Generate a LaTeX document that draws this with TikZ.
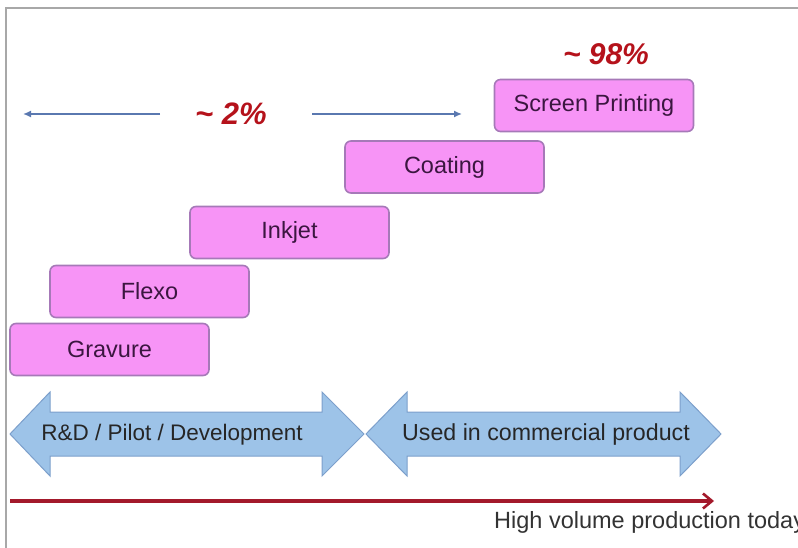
\documentclass[tikz,border=0pt]{standalone}
\usepackage{fontspec}
\setmainfont{Liberation Sans}
\usetikzlibrary{arrows.meta}
\definecolor{boxfill}{HTML}{F794F6}
\definecolor{boxdraw}{HTML}{A679B8}
\definecolor{boxtext}{HTML}{3B1640}
\definecolor{arrfill}{HTML}{9DC3E8}
\definecolor{arrdraw}{HTML}{7C9FCB}
\definecolor{pctred}{HTML}{B5121B}
\definecolor{thinblue}{HTML}{5A78B0}
\definecolor{axisred}{HTML}{A3192B}
\definecolor{framegray}{HTML}{A8A8A8}
\tikzset{
  techbox/.style={draw=boxdraw, line width=1.6pt, fill=boxfill, rounded corners=6pt,
    minimum width=199pt, minimum height=52pt, inner sep=0pt, text=boxtext,
    font=\fontsize{23.5}{26}\selectfont},
  pct/.style={text=pctred, font=\fontsize{30}{34}\selectfont\bfseries\itshape, inner sep=0pt},
  bigarrow/.style={fill=arrfill, draw=arrdraw, line width=1pt, line join=miter},
  arrlabel/.style={text=black!85, inner sep=0pt},
  thinarrow/.style={draw=thinblue, line width=1.4pt, -{Latex[length=8pt,width=7pt]}},
}
\begin{document}
\begin{tikzpicture}[x=1pt,y=-1pt]
\useasboundingbox (0,0) rectangle (798,548);
% frame
\draw[framegray, line width=1.2pt] (6,548) -- (6,8) -- (798,8);
% percentage labels
\node[pct, anchor=base] (p98) at (606,65) {\textasciitilde\ 98\%};
\node[pct, anchor=base, font=\fontsize{31}{34}\selectfont\bfseries\itshape] (p2) at (231,125) {\textasciitilde\ 2\%};
\coordinate (la) at (23,114);
\coordinate (lb) at (160,114);
\coordinate (ra) at (312,114);
\coordinate (rb) at (462,114);
\draw[thinarrow] (lb) -- (la);
\draw[thinarrow] (ra) -- (rb);
% technology boxes
\node[techbox] (screen) at (594,105.5) {Screen Printing};
\node[techbox] (coating) at (444.5,167) {Coating};
\node[techbox] (inkjet) at (289.5,232.5) {Inkjet};
\node[techbox] (flexo) at (149.5,291.5) {Flexo};
\node[techbox] (gravure) at (109.5,349.5) {Gravure};
% big double arrows
\draw[bigarrow] (10,434) -- (50,392) -- (50,412) -- (322,412) -- (322,392) -- (364,434)
  -- (322,476) -- (322,456) -- (50,456) -- (50,476) -- cycle;
\draw[bigarrow] (366,434) -- (407,392) -- (407,412) -- (680,412) -- (680,392) -- (721,434)
  -- (680,476) -- (680,456) -- (407,456) -- (407,476) -- cycle;
\node[arrlabel, font=\fontsize{22.5}{26}\selectfont] (rd) at (172,435) {R\&D / Pilot / Development};
\node[arrlabel, font=\fontsize{23.2}{26}\selectfont] (used) at (546,434) {Used in commercial product};
% axis arrow
\coordinate (xs) at (10,501);
\coordinate (xe) at (714,501);
\draw[axisred, line width=3.2pt, -{Straight Barb[length=9pt,width=15pt,line width=2.6pt]}] (xs) -- (xe);
\node[anchor=base west, inner sep=0pt, text=black!80, font=\fontsize{23.5}{26}\selectfont] (hv) at (494,528) {High volume production today};
\end{tikzpicture}
\end{document}
